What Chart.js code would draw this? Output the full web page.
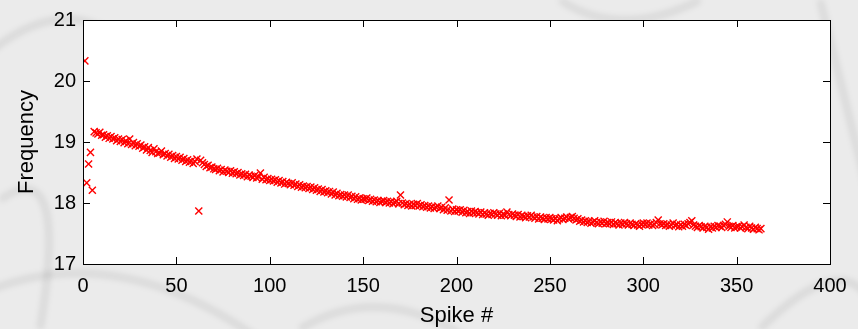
<!DOCTYPE html>
<html lang="en">
<head>
  <meta charset="UTF-8" />
  <title>Spike frequency</title>
  <style>
    body {
      margin: 0;
      padding: 0;
      background-color: #e9e9e9;
    }
    #chart {
      display: block;
    }
  </style>
</head>
<body>
  <canvas id="chart" width="858" height="329"></canvas>

  <script src="https://cdn.jsdelivr.net/npm/chart.js"></script>
  <script>
    // frequency of each spike, spike # = index + 1
    const frequency = [
      20.33, 18.33, 18.64, 18.83, 18.21, 19.17, 19.15, 19.13, 19.16, 19.11,
      19.12, 19.08, 19.10, 19.06, 19.09, 19.05, 19.07, 19.02, 19.05, 19.01,
      19.04, 18.99, 19.02, 18.97, 19.05, 18.96, 18.99, 18.94, 18.97, 18.93,
      18.95, 18.90, 18.92, 18.87, 18.91, 18.86, 18.83, 18.89, 18.84, 18.81,
      18.82, 18.85, 18.79, 18.81, 18.77, 18.80, 18.75, 18.78, 18.73, 18.76,
      18.72, 18.75, 18.70, 18.73, 18.68, 18.71, 18.67, 18.69, 18.65, 18.68,
      18.72, 17.87, 18.70, 18.66, 18.63, 18.60, 18.62, 18.58, 18.59, 18.56,
      18.55, 18.57, 18.53, 18.55, 18.51, 18.54, 18.52, 18.50, 18.53, 18.49,
      18.51, 18.48, 18.50, 18.46, 18.48, 18.45, 18.47, 18.43, 18.46, 18.44,
      18.42, 18.45, 18.41, 18.43, 18.49, 18.39, 18.42, 18.38, 18.40, 18.37,
      18.39, 18.36, 18.38, 18.34, 18.37, 18.33, 18.35, 18.31, 18.34, 18.32,
      18.30, 18.33, 18.29, 18.31, 18.27, 18.30, 18.26, 18.28, 18.25, 18.27,
      18.24, 18.26, 18.22, 18.25, 18.21, 18.23, 18.19, 18.22, 18.18, 18.20,
      18.17, 18.19, 18.15, 18.18, 18.13, 18.16, 18.12, 18.14, 18.11, 18.13,
      18.10, 18.13, 18.09, 18.11, 18.07, 18.10, 18.06, 18.08, 18.05, 18.07,
      18.06, 18.08, 18.04, 18.06, 18.03, 18.05, 18.02, 18.04, 18.01, 18.03,
      18.04, 18.01, 18.03, 18.00, 18.02, 17.99, 18.01, 18.03, 17.99, 18.13,
      18.00, 17.97, 17.99, 17.96, 17.98, 17.95, 17.98, 17.96, 17.99, 17.95,
      17.97, 17.94, 17.96, 17.93, 17.95, 17.92, 17.94, 17.91, 17.93, 17.95,
      17.91, 17.93, 17.89, 17.92, 17.88, 18.05, 17.87, 17.90, 17.86, 17.89,
      17.87, 17.89, 17.85, 17.88, 17.84, 17.86, 17.83, 17.87, 17.84, 17.86,
      17.84, 17.82, 17.85, 17.81, 17.84, 17.82, 17.80, 17.83, 17.81, 17.84,
      17.82, 17.80, 17.83, 17.79, 17.82, 17.80, 17.85, 17.81, 17.79, 17.82,
      17.80, 17.78, 17.81, 17.77, 17.80, 17.78, 17.76, 17.79, 17.77, 17.80,
      17.77, 17.75, 17.78, 17.74, 17.77, 17.75, 17.73, 17.76, 17.74, 17.76,
      17.74, 17.72, 17.75, 17.71, 17.74, 17.76, 17.73, 17.75, 17.77, 17.74,
      17.76, 17.78, 17.75, 17.72, 17.74, 17.70, 17.72, 17.69, 17.71, 17.68,
      17.70, 17.67, 17.69, 17.71, 17.68, 17.66, 17.69, 17.67, 17.70, 17.66,
      17.68, 17.66, 17.69, 17.65, 17.68, 17.66, 17.64, 17.67, 17.65, 17.68,
      17.66, 17.64, 17.67, 17.65, 17.63, 17.66, 17.64, 17.62, 17.65, 17.67,
      17.65, 17.67, 17.64, 17.66, 17.63, 17.65, 17.68, 17.72, 17.66, 17.64,
      17.66, 17.63, 17.65, 17.62, 17.64, 17.67, 17.63, 17.65, 17.61, 17.64,
      17.62, 17.65, 17.63, 17.66, 17.68, 17.71, 17.64, 17.62, 17.60, 17.63,
      17.61, 17.59, 17.62, 17.60, 17.57, 17.61, 17.59, 17.62, 17.60, 17.63,
      17.62, 17.60, 17.63, 17.65, 17.69, 17.62, 17.60, 17.63, 17.59, 17.61,
      17.62, 17.59, 17.61, 17.64, 17.60, 17.58, 17.62, 17.59, 17.57, 17.60,
      17.58, 17.56, 17.58
    ];
    const xTicks = [0, 50, 100, 150, 200, 250, 300, 350, 400];
    const yTicks = [17, 18, 19, 20, 21];

    const points = frequency.map((f, i) => ({ x: i + 1, y: f }));

    // gray textured backdrop + white axes box
    const backdrop = {
      id: 'backdrop',
      beforeDraw(chart) {
        const ctx = chart.ctx;
        const a = chart.chartArea;
        ctx.save();
        ctx.fillStyle = '#ebebeb';
        ctx.fillRect(0, 0, chart.width, chart.height);
        ctx.filter = 'blur(3px)';
        ctx.strokeStyle = 'rgba(0,0,0,0.10)';
        ctx.lineWidth = 5;
        const curves = [
          [-20, 60, 60, -10, 120, 40],
          [0, 200, 70, 150, 40, 329],
          [-10, 290, 120, 240, 260, 340],
          [300, 329, 380, 280, 470, 340],
          [560, 0, 620, 40, 700, 0],
          [760, 329, 840, 250, 870, 300],
          [820, 0, 850, 120, 870, 200]
        ];
        curves.forEach(c => {
          ctx.beginPath();
          ctx.moveTo(c[0], c[1]);
          ctx.quadraticCurveTo(c[2], c[3], c[4], c[5]);
          ctx.stroke();
        });
        ctx.filter = 'none';
        ctx.fillStyle = '#ffffff';
        ctx.fillRect(a.left, a.top, a.right - a.left, a.bottom - a.top);
        ctx.restore();
      },
      afterDraw(chart) {
        const ctx = chart.ctx;
        const a = chart.chartArea;
        const xs = chart.scales.x;
        const ys = chart.scales.y;
        const len = 7;
        ctx.save();
        ctx.strokeStyle = '#000';
        ctx.lineWidth = 1;
        ctx.beginPath();
        xTicks.forEach(v => {
          const px = Math.round(xs.getPixelForValue(v)) + 0.5;
          ctx.moveTo(px, a.bottom);
          ctx.lineTo(px, a.bottom - len);
          ctx.moveTo(px, a.top);
          ctx.lineTo(px, a.top + len);
        });
        yTicks.forEach(v => {
          const py = Math.round(ys.getPixelForValue(v)) + 0.5;
          ctx.moveTo(a.left, py);
          ctx.lineTo(a.left + len, py);
          ctx.moveTo(a.right, py);
          ctx.lineTo(a.right - len, py);
        });
        ctx.stroke();
        ctx.strokeRect(Math.round(a.left) + 0.5, Math.round(a.top) + 0.5,
          Math.round(a.right - a.left), Math.round(a.bottom - a.top));
        ctx.restore();
      }
    };

    const tickFont = { family: 'Arial, "Liberation Sans", sans-serif', size: 20 };
    const titleFont = { family: 'Arial, "Liberation Sans", sans-serif', size: 22 };

    new Chart(document.getElementById('chart'), {
      type: 'scatter',
      data: {
        datasets: [{
          data: points,
          pointStyle: 'crossRot',
          radius: 5,
          hoverRadius: 5,
          borderWidth: 1.4,
          borderColor: '#ff0000',
          backgroundColor: '#ff0000'
        }]
      },
      options: {
        responsive: false,
        animation: false,
        layout: { padding: { top: 20, right: 28, left: 0, bottom: 0 } },
        plugins: {
          legend: { display: false },
          tooltip: { enabled: false }
        },
        scales: {
          x: {
            type: 'linear',
            min: 0,
            max: 400,
            afterBuildTicks: s => { s.ticks = xTicks.map(v => ({ value: v })); },
            afterFit: s => { s.height = 65; },
            grid: { display: false, drawTicks: false },
            border: { display: false },
            ticks: { color: '#000', font: tickFont, padding: 10, maxRotation: 0 },
            title: {
              display: true,
              text: 'Spike #',
              color: '#000',
              font: titleFont,
              padding: { top: 0, bottom: 0 }
            }
          },
          y: {
            type: 'linear',
            min: 17,
            max: 21,
            afterBuildTicks: s => { s.ticks = yTicks.map(v => ({ value: v })); },
            afterFit: s => { s.width = 83; },
            grid: { display: false, drawTicks: false },
            border: { display: false },
            ticks: { color: '#000', font: tickFont, padding: 7 },
            title: {
              display: true,
              text: 'Frequency',
              color: '#000',
              font: titleFont,
              padding: { top: 14, bottom: 0 }
            }
          }
        }
      },
      plugins: [backdrop]
    });
  </script>
</body>
</html>
